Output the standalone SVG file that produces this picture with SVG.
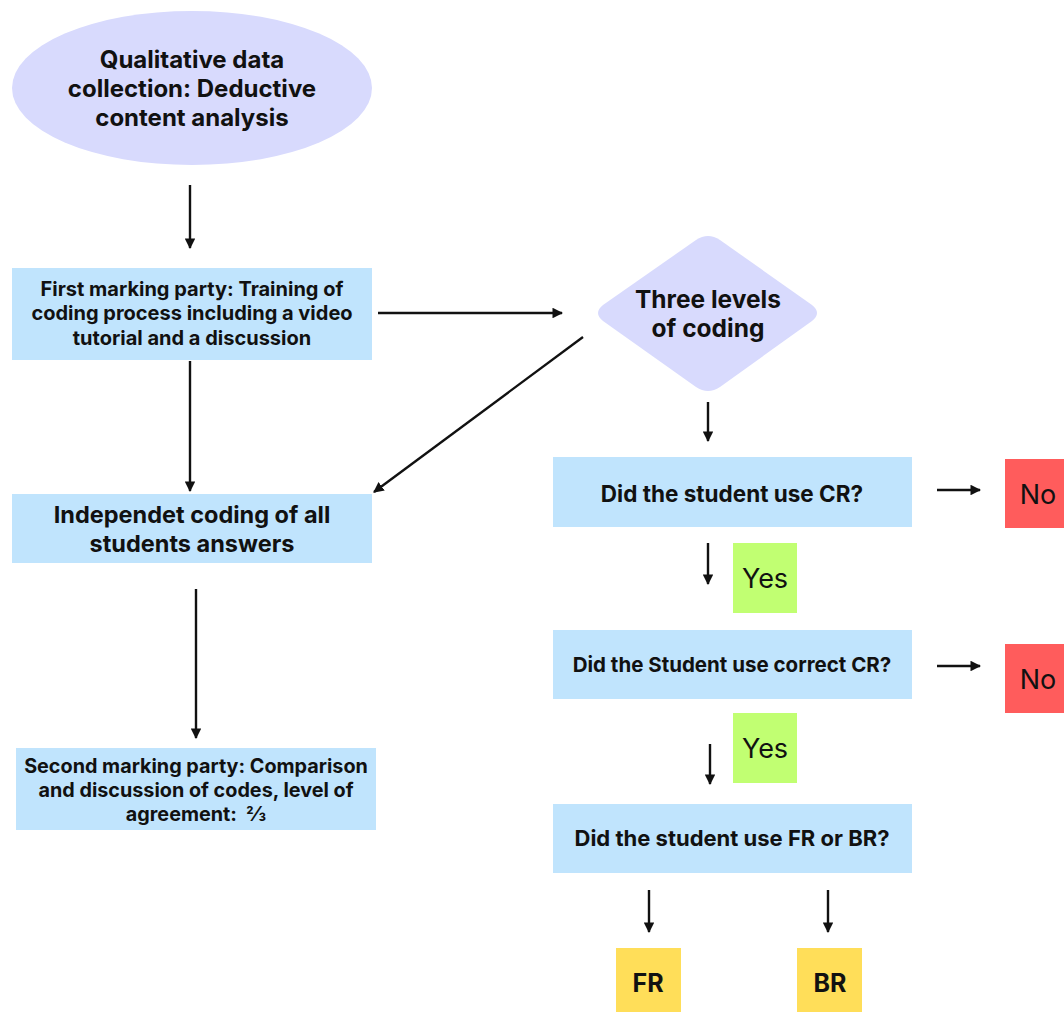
<svg xmlns="http://www.w3.org/2000/svg" width="1064" height="1012" viewBox="0 0 1064 1012">
<defs>
<style>
.t{font-family:Inter,"Open Sans","Liberation Sans",sans-serif;fill:#111;text-anchor:middle;dominant-baseline:central}
.b{font-weight:700}
.r{font-weight:400}
.c{stroke:#111;stroke-width:2.4;fill:none}
.lav{fill:#d8dafd}
.blue{fill:#c0e4fd}
.red{fill:#ff5c5c}
.green{fill:#c1ff72}
.yel{fill:#ffde59}
</style>
<marker id="ah" viewBox="0 0 10 10" refX="9" refY="5" markerWidth="4.4" markerHeight="4.4" orient="auto" markerUnits="strokeWidth">
<path d="M0,0 L10,5 L0,10 z" fill="#111"/>
</marker>
</defs>
<rect width="1064" height="1012" fill="#fff"/>
<g id="connectors">
<line class="c" x1="190" y1="185" x2="190" y2="248" marker-end="url(#ah)"/>
<line class="c" x1="378" y1="313" x2="562" y2="313" marker-end="url(#ah)"/>
<line class="c" x1="583" y1="337" x2="374" y2="492" marker-end="url(#ah)"/>
<line class="c" x1="190" y1="361" x2="190" y2="491" marker-end="url(#ah)"/>
<line class="c" x1="196" y1="589" x2="196" y2="738" marker-end="url(#ah)"/>
<line class="c" x1="708" y1="402" x2="708" y2="441" marker-end="url(#ah)"/>
<line class="c" x1="937" y1="490" x2="980" y2="490" marker-end="url(#ah)"/>
<line class="c" x1="708" y1="543" x2="708" y2="584" marker-end="url(#ah)"/>
<line class="c" x1="937" y1="666" x2="980" y2="666" marker-end="url(#ah)"/>
<line class="c" x1="710" y1="744" x2="710" y2="784" marker-end="url(#ah)"/>
<line class="c" x1="649" y1="890" x2="649" y2="932" marker-end="url(#ah)"/>
<line class="c" x1="828" y1="890" x2="828" y2="932" marker-end="url(#ah)"/>
</g>
<g id="start">
<ellipse class="lav" cx="192" cy="88" rx="180" ry="77"/>
<text class="t b" x="192" y="59" font-size="24">Qualitative data</text>
<text class="t b" x="192" y="88" font-size="24">collection: Deductive</text>
<text class="t b" x="192" y="117" font-size="24">content analysis</text>
</g>
<g id="first-marking">
<rect class="blue" x="12" y="268" width="360" height="92"/>
<text class="t b" x="192" y="289" font-size="20">First marking party: Training of</text>
<text class="t b" x="192" y="313" font-size="20">coding process including a video</text>
<text class="t b" x="192" y="338" font-size="20">tutorial and a discussion</text>
</g>
<g id="three-levels">
<path class="lav" d="M603,305 L696,240 Q708,232 720,240 L812,305 Q822,313 812,321 L720,387 Q708,395 696,387 L603,321 Q593,313 603,305 z"/>
<text class="t b" x="708" y="299" font-size="24.5">Three levels</text>
<text class="t b" x="708" y="328" font-size="24.5">of coding</text>
</g>
<g id="independent">
<rect class="blue" x="12" y="494" width="360" height="69"/>
<text class="t b" x="192" y="514" font-size="23.5">Independet coding of all</text>
<text class="t b" x="192" y="543" font-size="23.5">students answers</text>
</g>
<g id="second-marking">
<rect class="blue" x="16" y="748" width="360" height="82"/>
<text class="t b" x="196" y="766" font-size="19.8">Second marking party: Comparison</text>
<text class="t b" x="196" y="790" font-size="19.8">and discussion of codes, level of</text>
<text class="t b" x="196" y="814" font-size="19.8" xml:space="preserve">agreement:  ⅔</text>
</g>
<g id="q-cr">
<rect class="blue" x="553" y="457" width="359" height="70"/>
<text class="t b" x="732" y="493" font-size="22.5">Did the student use CR?</text>
</g>
<g id="no1">
<rect class="red" x="1005" y="459" width="65" height="69"/>
<text class="t r" x="1038" y="494" font-size="27">No</text>
</g>
<g id="yes1">
<rect class="green" x="733" y="543" width="64" height="70"/>
<text class="t r" x="765" y="578" font-size="27">Yes</text>
</g>
<g id="q-correct">
<rect class="blue" x="553" y="630" width="359" height="69"/>
<text class="t b" x="732" y="664" font-size="20.5">Did the Student use correct CR?</text>
</g>
<g id="no2">
<rect class="red" x="1005" y="644" width="65" height="69"/>
<text class="t r" x="1038" y="679" font-size="27">No</text>
</g>
<g id="yes2">
<rect class="green" x="733" y="713" width="64" height="70"/>
<text class="t r" x="765" y="748" font-size="27">Yes</text>
</g>
<g id="q-frbr">
<rect class="blue" x="553" y="804" width="359" height="69"/>
<text class="t b" x="732" y="838" font-size="22">Did the student use FR or BR?</text>
</g>
<g id="fr">
<rect class="yel" x="616" y="948" width="65" height="70"/>
<text class="t b" x="648" y="983" font-size="25">FR</text>
</g>
<g id="br">
<rect class="yel" x="797" y="948" width="65" height="70"/>
<text class="t b" x="830" y="983" font-size="25">BR</text>
</g>
</svg>
